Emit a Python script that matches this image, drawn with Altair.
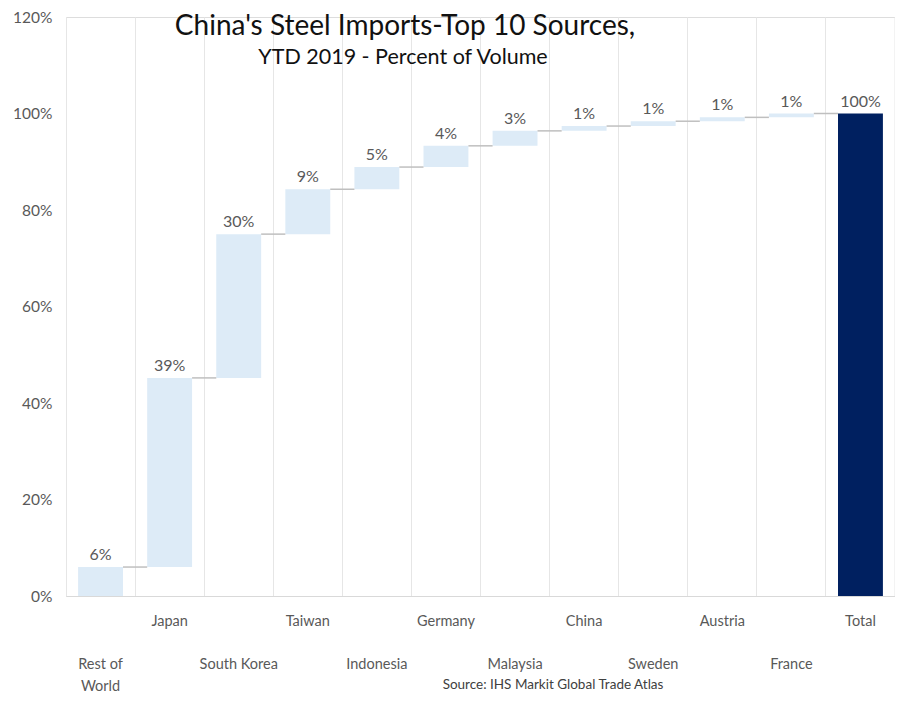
import altair as alt
import pandas as pd

# ---- data ----
categories = ["Rest of World", "Japan", "South Korea", "Taiwan", "Indonesia",
              "Germany", "Malaysia", "China", "Sweden", "Austria", "France", "Total"]
shares = [6.0, 39.2, 29.8, 9.3, 4.6, 4.4, 3.1, 1.0, 1.0, 0.8, 0.8]  # percent of volume
total_value = 100.0
y_ticks = [0, 20, 40, 60, 80, 100, 120]

title_text = "China's Steel Imports-Top 10 Sources,"
subtitle_text = "YTD 2019 - Percent of Volume"
source_text = "Source: IHS Markit Global Trade Atlas"

FONT = "Lato"
GRAY = "#595959"
W, H = 829, 579

# ---- build tables ----
rows = []
cum = 0.0
for c, v in zip(categories[:-1], shares):
    rows.append({"cat": c, "start": cum, "end": cum + v, "value": v, "kind": "step"})
    cum += v
rows.append({"cat": categories[-1], "start": 0.0, "end": total_value, "value": total_value, "kind": "total"})
bars_df = pd.DataFrame(rows)

conn_df = pd.DataFrame([
    {"cat": rows[i]["cat"], "next": rows[i + 1]["cat"], "level": rows[i]["end"]}
    for i in range(len(rows) - 1)
])

lab_df = pd.DataFrame({"cat": categories, "idx": list(range(len(categories)))})

x_enc = alt.X("cat:N", sort=categories, scale=alt.Scale(paddingInner=0, paddingOuter=0),
              axis=alt.Axis(labels=False, ticks=False, title=None, grid=True, bandPosition=0,
                            gridColor="#e6e6e6", gridWidth=1, domainColor="#d9d9d9",
                            domainWidth=1))
y_scale = alt.Scale(domain=[0, 120], nice=False)

bars = alt.Chart(bars_df).mark_bar(width=alt.RelativeBandSize(0.65)).encode(
    x=x_enc,
    y=alt.Y("start:Q", scale=y_scale,
            axis=alt.Axis(values=y_ticks, labelExpr="datum.value + '%'", grid=False,
                          domain=False, ticks=False, title=None, labelPadding=14,
                          labelFont=FONT, labelFontSize=15.5, labelColor=GRAY)),
    y2="end:Q",
    color=alt.condition(alt.datum.kind == "total", alt.value("#002060"), alt.value("#ddebf7")),
)

connectors = alt.Chart(conn_df).mark_rule(color="#bfbfbf", strokeWidth=1.5).encode(
    x=alt.X("cat:N", sort=categories, bandPosition=0.825),
    x2=alt.X2("next:N", bandPosition=0.175),
    y=alt.Y("level:Q", scale=y_scale),
)

value_labels = alt.Chart(bars_df).transform_calculate(
    label="format(datum.value, '.0f') + '%'"
).mark_text(font=FONT, fontSize=16, color=GRAY, baseline="bottom", dy=-4).encode(
    x=alt.X("cat:N", sort=categories),
    y=alt.Y("end:Q", scale=y_scale),
    text="label:N",
)

row1 = alt.Chart(lab_df).transform_filter("datum.idx % 2 == 1").mark_text(
    font=FONT, fontSize=14.5, color=GRAY, baseline="top", align="center"
).encode(x=alt.X("cat:N", sort=categories), y=alt.value(H + 19), text="cat:N")

row2 = alt.Chart(lab_df).transform_filter("datum.idx % 2 == 0").transform_calculate(
    lbl="replace(datum.cat, 'Rest of ', 'Rest of\\n')"
).mark_text(
    font=FONT, fontSize=14.5, color=GRAY, baseline="top", align="center",
    lineBreak="\n", lineHeight=22
).encode(x=alt.X("cat:N", sort=categories), y=alt.value(H + 62), text="lbl:N")

right_edge = alt.Chart(pd.DataFrame({"k": [0]})).mark_rule(color="#e6e6e6", strokeWidth=1).encode(
    x=alt.value(W), y=alt.value(0), y2=alt.value(H)
)

one = pd.DataFrame({"k": [0]})
title = alt.Chart(one).mark_text(font=FONT, fontSize=28, color="#111111", align="center",
                                 baseline="alphabetic", text=title_text).encode(
    x=alt.value(339), y=alt.value(18))
subtitle = alt.Chart(one).mark_text(font=FONT, fontSize=21.5, color="#111111", align="center",
                                    baseline="alphabetic", text=subtitle_text).encode(
    x=alt.value(337), y=alt.value(47))
source = alt.Chart(one).mark_text(font=FONT, fontSize=13.5, color="#404040", align="center",
                                  baseline="alphabetic", text=source_text).encode(
    x=alt.value(487), y=alt.value(672))

chart = alt.layer(
    bars, connectors, value_labels, row1, row2, right_edge, title, subtitle, source
).properties(
    width=W, height=H,
    autosize=alt.AutoSizeParams(type="none"),
    padding={"left": 58, "top": 9, "right": 0, "bottom": 98},
).configure_view(stroke=None).configure(background="white")

chart.save("out.html", embed_options={"renderer": "svg", "actions": False})
